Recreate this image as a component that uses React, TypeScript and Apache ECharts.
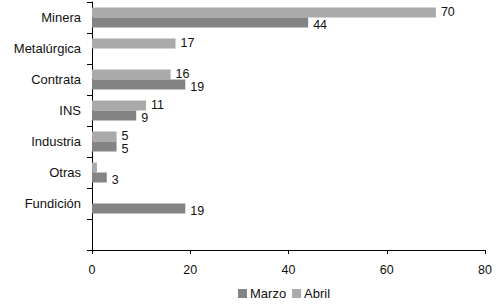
import React, { useEffect, useRef } from "react";
import * as echarts from "echarts";

// categories listed bottom-to-top (ECharts category y-axis starts at bottom)
const categories = ["", "Fundición", "Otras", "Industria", "INS", "Contrata", "Metalúrgica", "Minera"];
const marzo: (number | null)[] = [null, 19, 3, 5, 9, 19, null, 44];
const abril: (number | null)[] = [null, null, 1, 5, 11, 16, 17, 70];
const hiddenAbrilLabels = ["Otras"];
const xTicks = { min: 0, max: 80, interval: 20 };
const seriesNames = ["Marzo", "Abril"];

export default function App() {
  const ref = useRef<HTMLDivElement>(null);
  useEffect(() => {
    document.body.style.margin = "0";
    const chart = echarts.init(ref.current!, null, { renderer: "svg" });
    const font = "'Liberation Sans', Arial, sans-serif";
    const labelBase = {
      show: true,
      position: "right" as const,
      distance: 5,
      fontSize: 12.5,
      lineHeight: 10,
      fontFamily: font,
      color: "#111",
    };
    chart.setOption({
      animation: false,
      backgroundColor: "#fff",
      textStyle: { fontFamily: font },
      grid: { left: 92, right: 16, top: 2, bottom: 57, containLabel: false },
      legend: {
        data: seriesNames,
        bottom: 2,
        left: 233,
        itemWidth: 9,
        itemHeight: 9,
        itemGap: 6,
        icon: "rect",
        textStyle: { fontSize: 13, color: "#111", fontFamily: font, padding: [0, 0, 0, -2] },
      },
      xAxis: {
        type: "value",
        min: xTicks.min,
        max: xTicks.max,
        interval: xTicks.interval,
        splitLine: { show: false },
        axisLine: { show: true, lineStyle: { color: "#000", width: 1 } },
        axisTick: { show: true, length: 4, lineStyle: { color: "#000" } },
        axisLabel: { fontSize: 12.5, color: "#111", margin: 13, fontFamily: font },
      },
      yAxis: {
        type: "category",
        data: categories,
        axisLine: { show: true, lineStyle: { color: "#000", width: 1 } },
        axisTick: { show: true, length: 5, lineStyle: { color: "#000" } },
        axisLabel: { fontSize: 13, color: "#111", margin: 11, fontFamily: font },
      },
      series: [
        {
          name: seriesNames[1],
          type: "bar",
          data: abril.map((v, i) =>
            hiddenAbrilLabels.includes(categories[i])
              ? { value: v, label: { show: false } }
              : v
          ),
          barWidth: 10,
          barGap: "0%",
          itemStyle: { color: "#aaaaaa" },
          label: { ...labelBase, offset: [0, -1] },
        },
        {
          name: seriesNames[0],
          type: "bar",
          data: marzo,
          barWidth: 10,
          barGap: "0%",
          itemStyle: { color: "#848484" },
          label: { ...labelBase, offset: [0, 2] },
        },
      ],
    });
    return () => chart.dispose();
  }, []);
  return <div ref={ref} style={{ width: 501, height: 307 }} />;
}
